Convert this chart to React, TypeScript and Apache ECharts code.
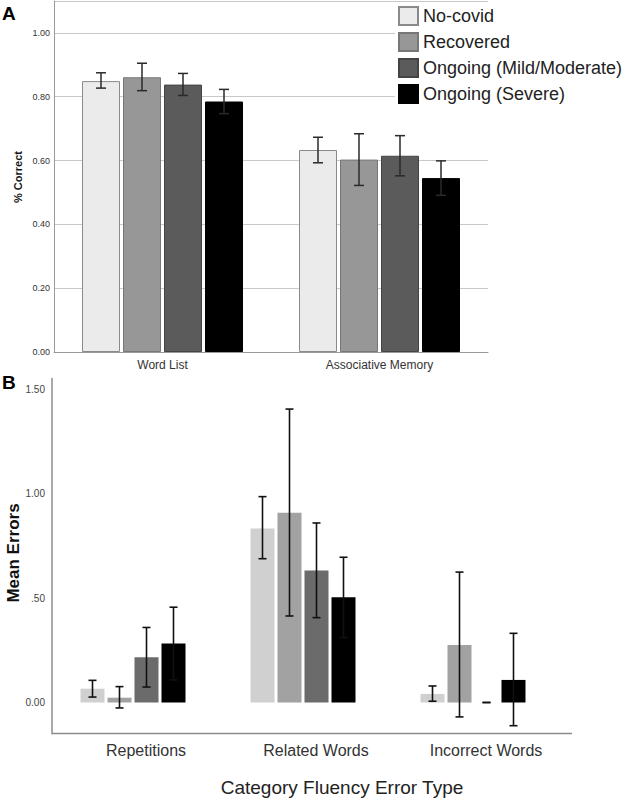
import React, { useEffect, useRef } from "react";
import * as echarts from "echarts";

// ---------- Data ----------
const groupNames = ["No-covid", "Recovered", "Ongoing (Mild/Moderate)", "Ongoing (Severe)"];

// Panel A: % Correct
const categoriesA = ["Word List", "Associative Memory"];
const noCovidA = [0.849, 0.633];
const recoveredA = [0.861, 0.603];
const mildA = [0.838, 0.615];
const severeA = [0.785, 0.545];
const noCovidALo = [0.827, 0.593];
const noCovidAHi = [0.875, 0.673];
const recoveredALo = [0.819, 0.522];
const recoveredAHi = [0.905, 0.684];
const mildALo = [0.804, 0.552];
const mildAHi = [0.873, 0.678];
const severeALo = [0.747, 0.491];
const severeAHi = [0.823, 0.599];
const ticksA = [0, 0.2, 0.4, 0.6, 0.8, 1.0];

// Panel B: Mean Errors
const categoriesB = ["Repetitions", "Related Words", "Incorrect Words"];
const noCovidB = [0.066, 0.833, 0.041];
const recoveredB = [0.023, 0.908, 0.275];
const mildB = [0.216, 0.632, 0];
const severeB = [0.282, 0.503, 0.108];
const noCovidBLo = [0.026, 0.688, 0.006];
const noCovidBHi = [0.106, 0.985, 0.079];
const recoveredBLo = [-0.026, 0.414, -0.069];
const recoveredBHi = [0.076, 1.404, 0.624];
const mildBLo = [0.074, 0.406, 0];
const mildBHi = [0.359, 0.859, 0];
const severeBLo = [0.108, 0.311, -0.111];
const severeBHi = [0.456, 0.695, 0.331];
const ticksB = [0, 0.5, 1.0, 1.5];

const FONT = "'Liberation Sans', Arial, sans-serif";

export default function App() {
  const ref = useRef<HTMLDivElement>(null);

  useEffect(() => {
    document.body.style.margin = "0";
    if (!ref.current) return;
    const chart = echarts.init(ref.current, undefined, { renderer: "svg" });

    const colorsA = ["#ebebeb", "#979797", "#5b5b5b", "#000000"];
    const bordersA = ["#8a8a8a", "#777777", "#444444", "#000000"];
    const colorsB = ["#d0d0d0", "#a2a2a2", "#6b6b6b", "#000000"];

    const meansA = [noCovidA, recoveredA, mildA, severeA];
    const losA = [noCovidALo, recoveredALo, mildALo, severeALo];
    const hisA = [noCovidAHi, recoveredAHi, mildAHi, severeAHi];
    const meansB = [noCovidB, recoveredB, mildB, severeB];
    const losB = [noCovidBLo, recoveredBLo, mildBLo, severeBLo];
    const hisB = [noCovidBHi, recoveredBHi, mildBHi, severeBHi];

    const barWA = 38, gapA = 3;
    const barWB = 24, gapB = 3;

    const errSeries = (
      axisIdx: number,
      lo: number[],
      hi: number[],
      offset: number,
      capHalf: number,
      color: string,
      width: number
    ) => ({
      type: "custom",
      xAxisIndex: axisIdx,
      yAxisIndex: axisIdx,
      silent: true,
      z: 10,
      data: lo.map((l, i) => [i, l, hi[i]]),
      encode: { x: 0, y: [1, 2] },
      renderItem: (params: any, api: any) => {
        const c = api.value(0);
        const pLo = api.coord([c, api.value(1)]);
        const pHi = api.coord([c, api.value(2)]);
        const x = pLo[0] + offset;
        const style = { stroke: color, lineWidth: width };
        return {
          type: "group",
          children: [
            { type: "line", shape: { x1: x, y1: pLo[1], x2: x, y2: pHi[1] }, style },
            { type: "line", shape: { x1: x - capHalf, y1: pHi[1], x2: x + capHalf, y2: pHi[1] }, style },
            { type: "line", shape: { x1: x - capHalf, y1: pLo[1], x2: x + capHalf, y2: pLo[1] }, style },
          ],
        };
      },
    });

    const series: any[] = [];
    groupNames.forEach((name, k) => {
      series.push({
        name,
        type: "bar",
        xAxisIndex: 0,
        yAxisIndex: 0,
        data: meansA[k],
        barWidth: barWA,
        barGap: `${(gapA / barWA) * 100}%`,
        itemStyle: { color: colorsA[k], borderColor: bordersA[k], borderWidth: 1 },
        silent: true,
      });
    });
    groupNames.forEach((name, k) => {
      series.push({
        name: name + " (B)",
        type: "bar",
        xAxisIndex: 1,
        yAxisIndex: 1,
        data: meansB[k],
        barWidth: barWB,
        barGap: `${(gapB / barWB) * 100}%`,
        itemStyle: { color: colorsB[k] },
        silent: true,
      });
    });
    groupNames.forEach((_, k) => {
      const offA = (k - 1.5) * (barWA + gapA);
      series.push(errSeries(0, losA[k], hisA[k], offA, 5, "#2a2a2a", 1.5));
      const offB = (k - 1.5) * (barWB + gapB);
      series.push(errSeries(1, losB[k], hisB[k], offB, 4, "#111111", 1.6));
    });

    const option: any = {
      animation: false,
      backgroundColor: "#ffffff",
      textStyle: { fontFamily: FONT },
      legend: {
        data: groupNames,
        orient: "vertical",
        left: 395,
        top: 6,
        itemWidth: 19,
        itemHeight: 18,
        itemGap: 6,
        padding: [0, 4, 4, 3],
        backgroundColor: "#ffffff",
        icon: "rect",
        selectedMode: false,
        textStyle: { fontSize: 18, color: "#222222", fontFamily: FONT },
      },
      grid: [
        { left: 54, top: 1, width: 434, height: 351 },
        { left: 48, top: 378.55, width: 510, height: 355.3 },
      ],
      xAxis: [
        {
          type: "category",
          gridIndex: 0,
          data: categoriesA,
          axisLine: { lineStyle: { color: "#999999", width: 1 } },
          axisTick: { show: false },
          axisLabel: { fontSize: 12, color: "#333333", margin: 7, fontFamily: FONT },
        },
        {
          type: "category",
          gridIndex: 1,
          data: categoriesB,
          axisLine: { show: false },
          axisTick: { show: false },
          axisLabel: {
            fontSize: 16,
            color: "#333333",
            margin: 9,
            padding: [0, 0, 0, 26],
            fontFamily: FONT,
          },
        },
      ],
      yAxis: [
        {
          type: "value",
          gridIndex: 0,
          min: 0,
          max: 1.1,
          axisLine: { show: true, lineStyle: { color: "#999999", width: 1 } },
          axisTick: { show: false },
          splitLine: {
            show: true,
            customValues: ticksA.slice(1),
            lineStyle: { color: "#c8c8c8", width: 1 },
          },
          axisLabel: {
            customValues: ticksA,
            fontSize: 9,
            color: "#333333",
            margin: 4,
            fontFamily: FONT,
            formatter: (v: number) => v.toFixed(2),
          },
        },
        {
          type: "value",
          gridIndex: 1,
          min: -0.15,
          max: 1.55,
          offset: -4,
          axisLine: { show: true, lineStyle: { color: "#8c8c8c", width: 1.5 } },
          axisTick: { show: false },
          splitLine: { show: false },
          axisLabel: {
            customValues: ticksB,
            fontSize: 10,
            color: "#444444",
            margin: 7,
            fontFamily: FONT,
            formatter: (v: number) => (v === 0.5 ? ".50" : v.toFixed(2)),
          },
        },
      ],
      graphic: [
        {
          type: "text",
          x: 2,
          y: 4,
          style: { text: "A", font: `bold 19px ${FONT}`, fill: "#000" },
        },
        {
          type: "text",
          x: 2,
          y: 373,
          style: { text: "B", font: `bold 19px ${FONT}`, fill: "#000" },
        },
        {
          type: "text",
          x: 18,
          y: 177,
          rotation: Math.PI / 2,
          style: {
            text: "% Correct",
            font: `bold 11px ${FONT}`,
            fill: "#111",
            align: "center",
            verticalAlign: "middle",
          },
        },
        {
          type: "text",
          x: 13,
          y: 553,
          rotation: Math.PI / 2,
          style: {
            text: "Mean Errors",
            font: `bold 17px ${FONT}`,
            fill: "#111",
            align: "center",
            verticalAlign: "middle",
          },
        },
        {
          type: "text",
          x: 342,
          y: 787,
          style: {
            text: "Category Fluency Error Type",
            font: `19px ${FONT}`,
            fill: "#222",
            align: "center",
            verticalAlign: "middle",
          },
        },
        {
          type: "line",
          shape: { x1: 52, y1: 733.5, x2: 572, y2: 733.5 },
          style: { stroke: "#8c8c8c", lineWidth: 1.5 },
          silent: true,
        },
      ],
      series,
    };

    chart.setOption(option);
    return () => chart.dispose();
  }, []);

  return <div ref={ref} style={{ width: 633, height: 804 }} />;
}
